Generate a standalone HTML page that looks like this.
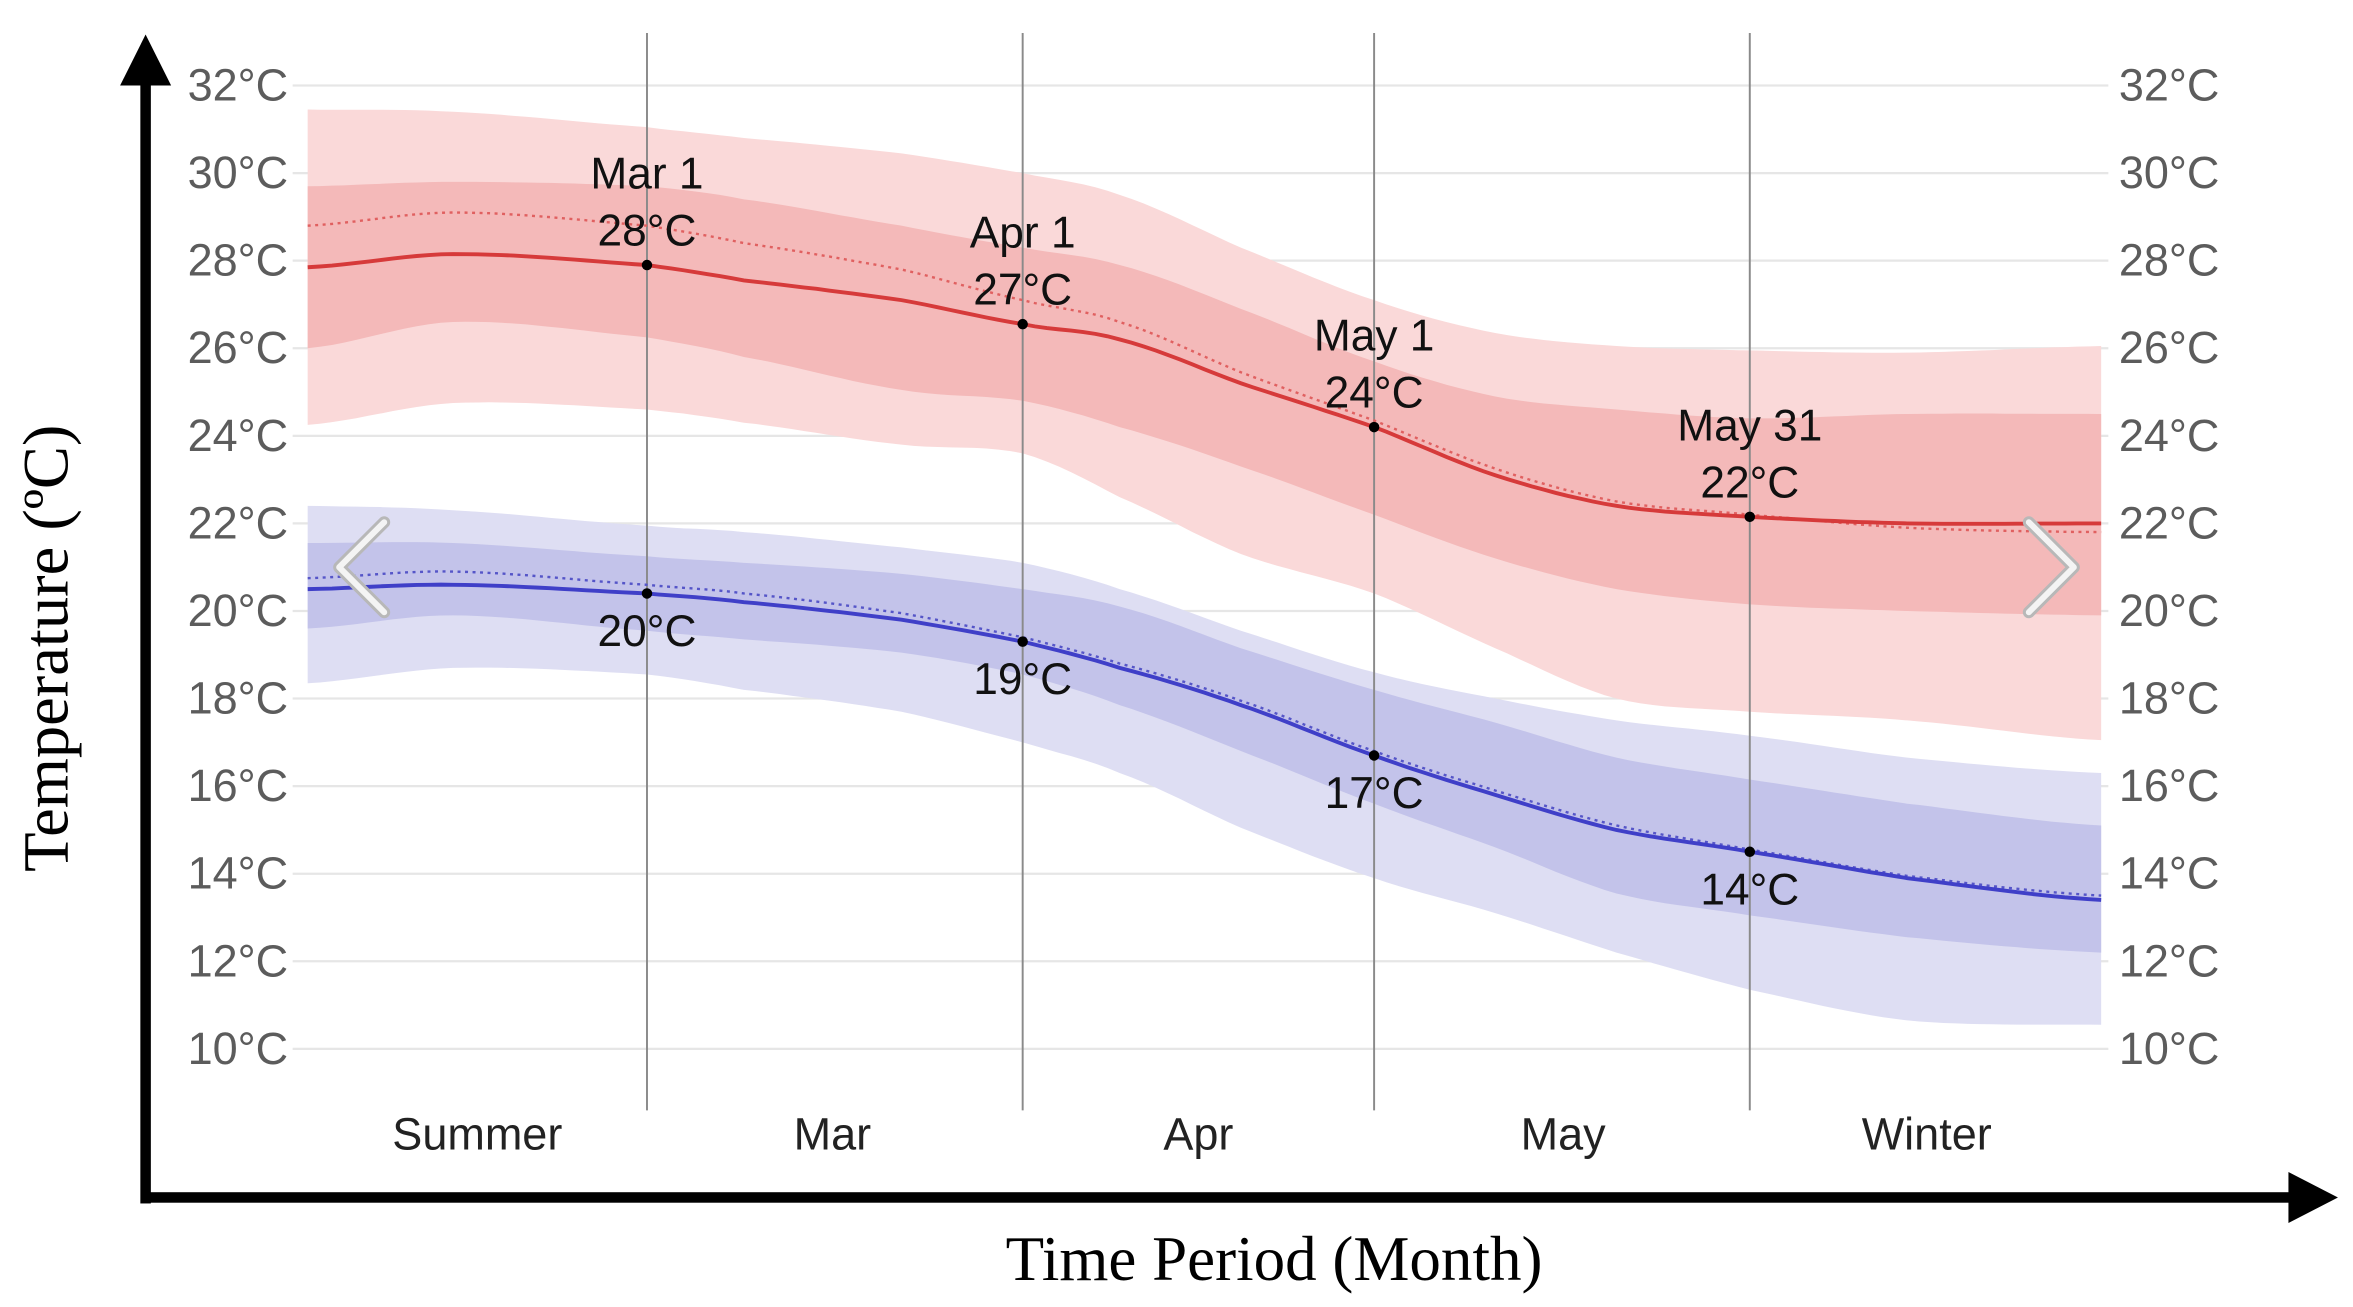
<!DOCTYPE html>
<html><head><meta charset="utf-8"><style>
html,body{margin:0;padding:0;background:#fff;}
svg{display:block;}
</style></head><body>
<svg id="chart" width="2353" height="1307" viewBox="0 0 1568 871" xmlns="http://www.w3.org/2000/svg">
<g id="grid"></g>
<g id="bands"></g>
<g id="vlines"></g>
<g id="lines"></g>
<g id="ticks"></g>
<g id="ann"></g>
<g>
<rect x="93.5" y="50" width="7" height="752" fill="#000"/>
<polygon points="97,23 80,57 114,57" fill="#000"/>
</g>
<g>
<rect x="94" y="794.5" width="1440" height="7" fill="#000"/>
<polygon points="1558,798 1525,781 1525,815" fill="#000"/>
</g>
<text x="849" y="853" text-anchor="middle" font-family="Liberation Serif, serif" font-size="42" fill="#000">Time Period (Month)</text>
<text transform="translate(45,432) rotate(-90)" text-anchor="middle" font-family="Liberation Serif, serif" font-size="43" fill="#000">Temperature (ºC)</text>
<g>
<polyline points="256,348 226,378 256,408" fill="none" stroke="#b8b8b8" stroke-width="8" stroke-linecap="round" stroke-linejoin="round"/>
<polyline points="256,348 226,378 256,408" fill="none" stroke="#f4f4f4" stroke-width="4" stroke-linecap="round" stroke-linejoin="round"/>
</g>
<g>
<polyline points="1352,348 1382,378 1352,408" fill="none" stroke="#b8b8b8" stroke-width="8" stroke-linecap="round" stroke-linejoin="round"/>
<polyline points="1352,348 1382,378 1352,408" fill="none" stroke="#f4f4f4" stroke-width="4" stroke-linecap="round" stroke-linejoin="round"/>
</g>
</svg>
<script>
const days = [-28,-16,0,8,21,31,39,49,60,70,80,91,104,120];
const redMean = [27.85,28.15,27.9,27.55,27.1,26.55,26.2,25.2,24.2,23.1,22.4,22.15,22.0,22.0];
const redAvg = [28.8,29.1,28.8,28.4,27.8,27.1,26.6,25.45,24.35,23.25,22.5,22.2,21.9,21.8];
const red75 = [29.7,29.8,29.7,29.4,28.8,28.3,27.9,26.9,25.7,24.9,24.6,24.4,24.5,24.5];
const red25 = [26.0,26.6,26.25,25.8,25.05,24.8,24.2,23.3,22.2,21.2,20.5,20.15,20.0,19.9];
const red90 = [31.45,31.4,31.05,30.8,30.45,30.0,29.5,28.3,27.1,26.35,26.05,25.95,25.9,26.05];
const red10 = [24.25,24.75,24.6,24.3,23.8,23.6,22.6,21.3,20.4,19.15,18.0,17.7,17.5,17.05];
const blueMean = [20.5,20.6,20.4,20.2,19.8,19.3,18.7,17.85,16.7,15.8,15.0,14.5,13.9,13.4];
const blueAvg = [20.75,20.9,20.6,20.4,19.95,19.4,18.8,17.95,16.8,15.9,15.1,14.55,13.95,13.5];
const blue75 = [21.55,21.55,21.25,21.1,20.85,20.5,20.1,19.15,18.2,17.45,16.65,16.15,15.6,15.1];
const blue25 = [19.6,19.9,19.55,19.35,19.05,18.55,17.85,16.8,15.6,14.6,13.55,13.05,12.55,12.2];
const blue90 = [22.4,22.3,21.95,21.8,21.45,21.1,20.5,19.55,18.6,18.0,17.5,17.15,16.65,16.3];
const blue10 = [18.35,18.7,18.55,18.2,17.7,17.0,16.3,15.05,13.9,13.1,12.2,11.35,10.65,10.55];
const yTicks = [10,12,14,16,18,20,22,24,26,28,30,32];
const markerDays = [0,31,60,91];
const markerDates = ["Mar 1","Apr 1","May 1","May 31"];
const redMarkerLabels = ["28°C","27°C","24°C","22°C"];
const blueMarkerLabels = ["20°C","19°C","17°C","14°C"];
const monthLabels = ["Summer","Mar","Apr","May","Winter"];
const monthMidDays = [-14,15.3,45.5,75.6,105.6];

const NS = "http://www.w3.org/2000/svg";
const xS = d => 205 + (d + 28) * 8.076;
const yS = t => 57 + (32 - t) * 29.18;
function mk(tag, attrs, parent){const e=document.createElementNS(NS,tag);for(const k in attrs)e.setAttribute(k,attrs[k]);parent.appendChild(e);return e;}
function interp(arr,d){for(let i=0;i<days.length-1;i++){if(d>=days[i]&&d<=days[i+1]){const f=(d-days[i])/(days[i+1]-days[i]);return arr[i]+f*(arr[i+1]-arr[i]);}}return arr[arr.length-1];}
function smoothPts(arr){const pts=[];for(let d=days[0];d<=days[days.length-1];d+=1){pts.push([xS(d),yS(catm(arr,d))]);}return pts;}
function catm(arr,d){let i=0;while(i<days.length-2&&d>days[i+1])i++;const p0=arr[Math.max(i-1,0)],p1=arr[i],p2=arr[i+1],p3=arr[Math.min(i+2,arr.length-1)];const t=(d-days[i])/(days[i+1]-days[i]);const t2=t*t,t3=t2*t;return 0.5*((2*p1)+(-p0+p2)*t+(2*p0-5*p1+4*p2-p3)*t2+(-p0+3*p1-3*p2+p3)*t3);}
function pathOf(pts){return pts.map((p,i)=>(i?"L":"M")+p[0].toFixed(1)+","+p[1].toFixed(1)).join("");}
function band(top,bot,fill,name){const a=smoothPts(top),b=smoothPts(bot).reverse();const e=mk("path",{d:pathOf(a.concat(b))+"Z",fill:fill},document.getElementById("bands"));

}

const grid=document.getElementById("grid"), ticks=document.getElementById("ticks");
yTicks.forEach(t=>{
  const l=mk("line",{x1:195,x2:1405,y1:yS(t),y2:yS(t),stroke:"#e6e6e6","stroke-width":1.5},grid);
  
  
  const a=mk("text",{x:192,y:yS(t)+10,"text-anchor":"end","font-family":"Liberation Sans, sans-serif","font-size":30,fill:"#5c5c5c"},ticks);a.textContent=t+"°C";
  
  
  const b=mk("text",{x:1412,y:yS(t)+10,"text-anchor":"start","font-family":"Liberation Sans, sans-serif","font-size":30,fill:"#5c5c5c"},ticks);b.textContent=t+"°C";
  
  
});
band(red90,red10,"#fad9d9","red-band-10-90");
band(red75,red25,"#f4b9b9","red-band-25-75");
band(blue90,blue10,"#dedef3","blue-band-10-90");
band(blue75,blue25,"#c3c3ea","blue-band-25-75");

const vl=document.getElementById("vlines");
markerDays.forEach((d,i)=>{const l=mk("line",{x1:xS(d),x2:xS(d),y1:22,y2:740,stroke:"#8a8a8a","stroke-width":1.3},vl);
  
  });

const lines=document.getElementById("lines");
function line(arr,color,w,dash,name){const e=mk("path",{d:pathOf(smoothPts(arr)),fill:"none",stroke:color,"stroke-width":w},lines);if(dash)e.setAttribute("stroke-dasharray",dash);
  
  }
line(redAvg,"#e06060",1.6,"2,3","red-average-line");
line(redMean,"#d63a3a",2.6,null,"red-mean-line");
line(blueAvg,"#5555c8",1.6,"2,3","blue-average-line");
line(blueMean,"#3f3fc8",2.6,null,"blue-mean-line");

const ann=document.getElementById("ann");
function txt(s,x,y,name,fill,size){const t=mk("text",{x:x,y:y,"text-anchor":"middle","font-family":"Liberation Sans, sans-serif","font-size":size||29.5,fill:fill||"#111"},ann);t.textContent=s;
  
  return t;}
markerDays.forEach((d,i)=>{
  const x=xS(d), yr=yS(interp(redMean,d)), yb=yS(interp(blueMean,d));
  const c1=mk("circle",{cx:x,cy:yr,r:3.5,fill:"#000"},ann);
  
  
  const c2=mk("circle",{cx:x,cy:yb,r:3.5,fill:"#000"},ann);
  
  
  txt(markerDates[i],x,yr-51,'marker-date-'+i);
  txt(redMarkerLabels[i],x,yr-13,'red-marker-label-'+i);
  txt(blueMarkerLabels[i],x,yb+35,'blue-marker-label-'+i);
});
monthLabels.forEach((m,i)=>{txt(m,xS(monthMidDays[i]),766,'month-label-'+i,"#222",30);});
</script>
</body></html>
